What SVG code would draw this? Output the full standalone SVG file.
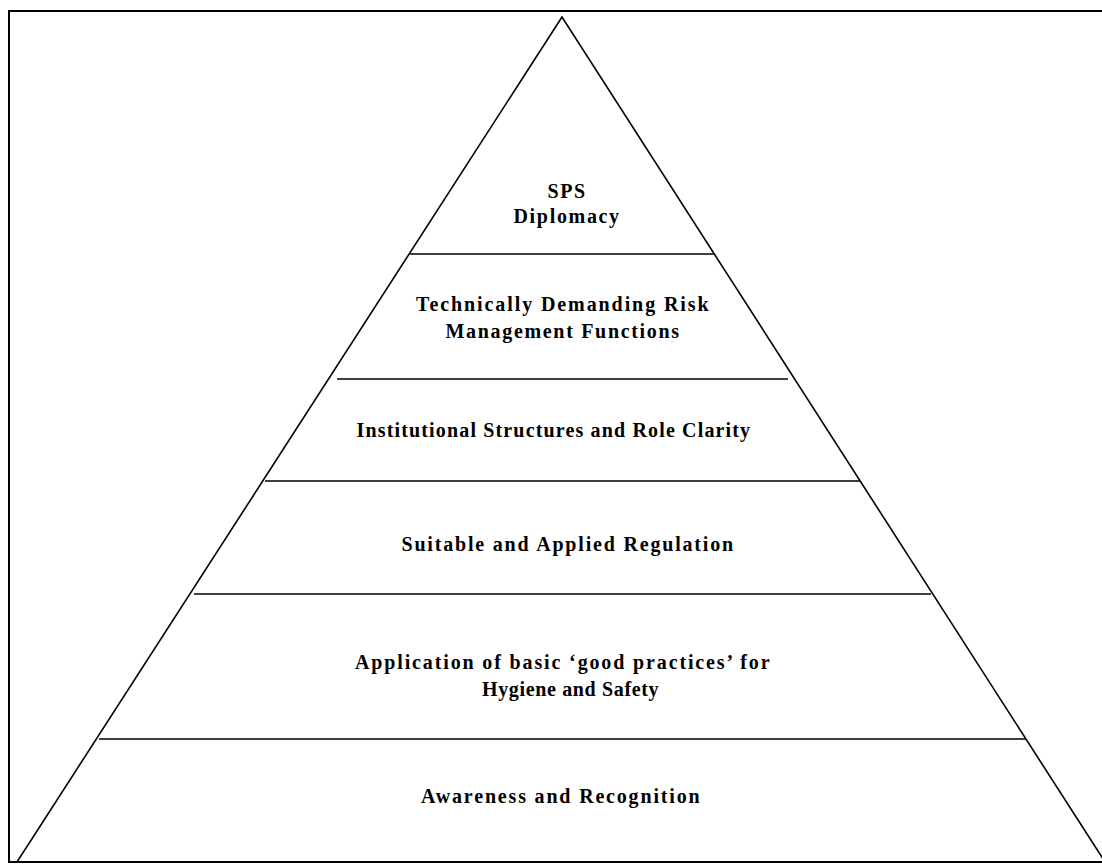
<svg xmlns="http://www.w3.org/2000/svg" width="1102" height="865" viewBox="0 0 1102 865">
<style>
.frame{fill:none;stroke:#000;stroke-width:2}
.tri{fill:none;stroke:#000;stroke-width:1.6}
.div{stroke:#000;stroke-width:1.6}
text{font-family:"Liberation Serif","Times New Roman",serif;font-weight:bold;font-size:20px;letter-spacing:1.4px;text-anchor:middle;fill:#000}
</style>
<rect width="1102" height="865" fill="#fff"/>
<rect class="frame" x="9" y="11" width="1100" height="851"/>
<g id="pyramid">
<polygon class="tri" points="562,17 17,862 1105,862"/>
</g>
<g id="connectors">
<line class="div" x1="410" y1="254" x2="714" y2="254"/>
<line class="div" x1="337" y1="379" x2="788" y2="379"/>
<line class="div" x1="265" y1="481" x2="860" y2="481"/>
<line class="div" x1="194" y1="594" x2="931" y2="594"/>
<line class="div" x1="99" y1="739" x2="1026" y2="739"/>
</g>
<g id="level6"><text x="567" y="198" textLength="39" lengthAdjust="spacing">SPS</text><text x="567" y="223" textLength="107" lengthAdjust="spacing">Diplomacy</text></g>
<g id="level5"><text x="563" y="311" textLength="294" lengthAdjust="spacing">Technically Demanding Risk</text><text x="563" y="338" textLength="235" lengthAdjust="spacing">Management Functions</text></g>
<g id="level4"><text x="554" y="437" textLength="395" lengthAdjust="spacing">Institutional Structures and Role Clarity</text></g>
<g id="level3"><text x="568" y="551" textLength="333" lengthAdjust="spacing">Suitable and Applied Regulation</text></g>
<g id="level2"><text x="563" y="669" textLength="416" lengthAdjust="spacing">Application of basic ‘good practices’ for</text><text x="571" y="696" textLength="178" lengthAdjust="spacing">Hygiene and Safety</text></g>
<g id="level1"><text x="561" y="803" textLength="280" lengthAdjust="spacing">Awareness and Recognition</text></g>
</svg>
